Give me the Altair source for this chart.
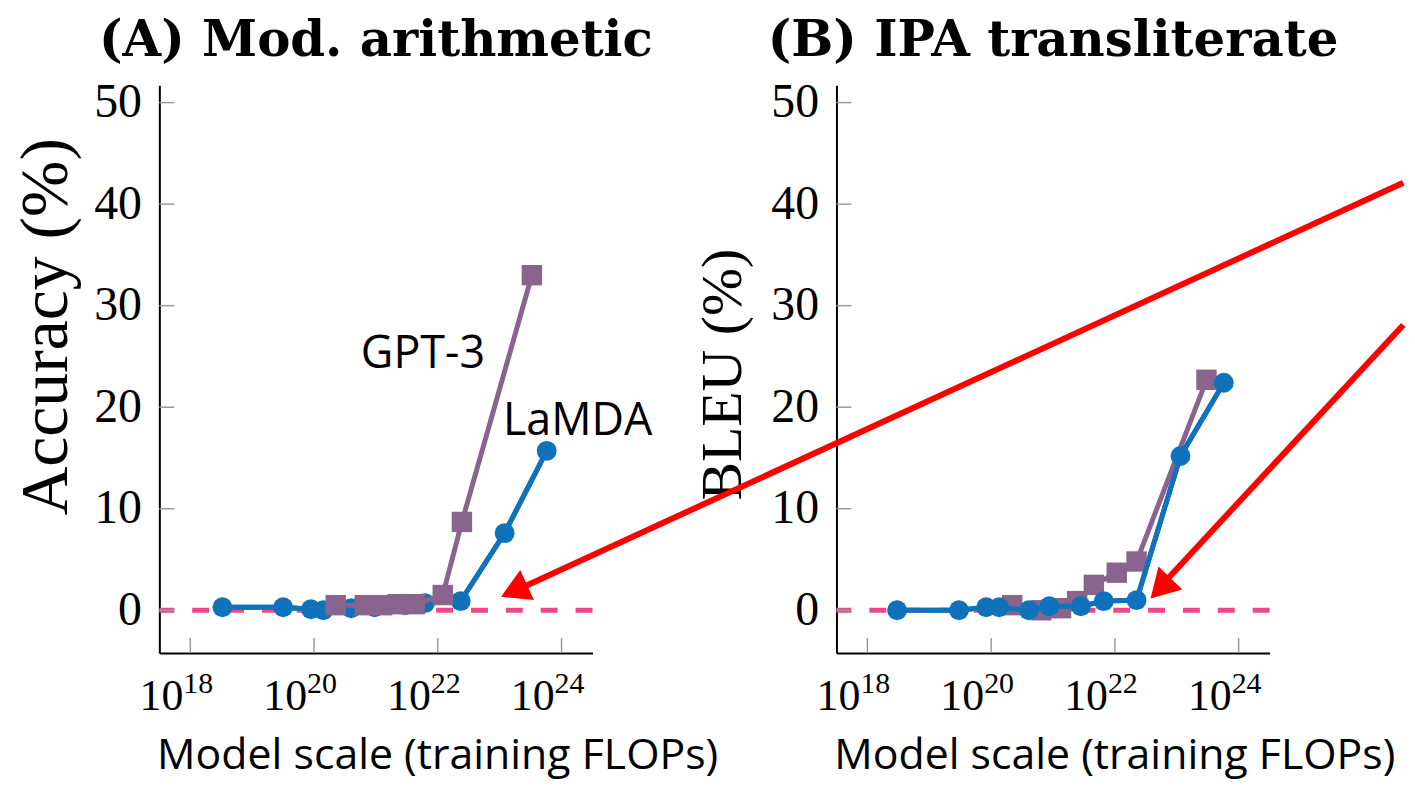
import altair as alt
import pandas as pd

# ---------------- data (x = log10 of training FLOPs) ----------------
A_LAMDA_X = [18.52, 19.50, 19.95, 20.15, 20.60, 20.98, 21.47, 21.79, 22.37, 23.08, 23.76]
A_LAMDA_Y = [0.3, 0.3, 0.1, 0.0, 0.2, 0.3, 0.5, 0.7, 0.9, 7.6, 15.7]
A_GPT3_X = [20.35, 20.82, 21.10, 21.35, 21.63, 22.08, 22.39, 23.52]
A_GPT3_Y = [0.5, 0.5, 0.5, 0.6, 0.6, 1.5, 8.7, 33.0]

B_LAMDA_X = [18.48, 19.48, 19.92, 20.13, 20.61, 20.94, 21.45, 21.82, 22.35, 23.06, 23.76]
B_LAMDA_Y = [0.0, 0.0, 0.3, 0.3, 0.0, 0.4, 0.4, 0.9, 1.0, 15.2, 22.4]
B_GPT3_X = [20.34, 20.81, 21.13, 21.39, 21.66, 22.03, 22.35, 23.48]
B_GPT3_Y = [0.5, 0.0, 0.2, 0.9, 2.5, 3.7, 4.8, 22.7]

X_TICK_EXP = [18, 20, 22, 24]
Y_TICKS = [0, 10, 20, 30, 40, 50]

# annotation texts in panel A (x = log10 FLOPs, y = value)
A_TEXT_X = [21.76, 24.26]
A_TEXT_Y = [25.2, 18.6]
A_TEXT = ["GPT-3", "LaMDA"]

# red arrows, drawn from panel B's coordinate frame
ARROW_X = [26.66, 26.66]
ARROW_Y = [42.1, 28.1]
ARROW_X2 = [12.30, 22.70]
ARROW_Y2 = [1.9, 2.1]
HEAD_X = [12.36, 22.79]
HEAD_Y = [2.1, 2.5]
HEAD_ANGLE = [245.5, 223.9]

BLUE = "#0F72BA"
PURPLE = "#88648F"
PINK = "#F0478A"
RED = "#FF0000"
W, H = 435, 570
XDOM = [17.5, 24.5]
YDOM = [-4.2, 51.7]
SERIF = "Liberation Serif"
SANS = "Open Sans"


def panel(title, ytitle, ytitle_size, ytitle_y, lx, ly, gx, gy, lamda_on_top, texts=None, arrows=None):
    xs = alt.Scale(domain=XDOM, nice=False, zero=False)
    ys = alt.Scale(domain=YDOM, nice=False, zero=False)
    x_axis = alt.Axis(title="Model scale (training FLOPs)", labels=False, ticks=False, grid=False,
                      domainColor="black", domainWidth=2,
                      titleFont=SANS, titleFontSize=43, titleFontWeight="normal", titleColor="black",
                      titleX=279, titleY=116, titleAlign="center", titleBaseline="alphabetic")
    y_axis = alt.Axis(title=ytitle, values=Y_TICKS, ticks=False, grid=False,
                      domainColor="black", domainWidth=2,
                      labelFont=SERIF, labelFontSize=48, labelPadding=18, labelColor="black",
                      titleFont=SERIF, titleFontSize=ytitle_size, titleFontWeight="normal",
                      titleColor="black",
                      titleX=-113, titleY=ytitle_y, titleAngle=-90, titleAlign="center",
                      titleBaseline="middle")

    lam = pd.DataFrame({"x": lx, "y": ly})
    gpt = pd.DataFrame({"x": gx, "y": gy})
    xt = pd.DataFrame({"e": X_TICK_EXP, "base": ["10"] * len(X_TICK_EXP),
                       "sup": [str(v) for v in X_TICK_EXP]})
    yt = pd.DataFrame({"v": Y_TICKS})

    X = lambda f="x": alt.X(f + ":Q", scale=xs)
    Y = lambda f="y": alt.Y(f + ":Q", scale=ys)

    axes_layer = alt.Chart(lam).mark_line(color=BLUE, strokeWidth=5).encode(
        x=alt.X("x:Q", scale=xs, axis=x_axis),
        y=alt.Y("y:Q", scale=ys, axis=y_axis),
    )
    zero_line = alt.Chart(yt).mark_rule(color=PINK, strokeWidth=5, strokeDash=[17, 18]).encode(
        y=Y("v")
    ).transform_filter("datum.v == 0")

    xticks = alt.Chart(xt).mark_rule(color="#999999", strokeWidth=1.5).encode(
        x=X("e"), y=alt.value(H), y2=alt.value(H - 15))
    yticks = alt.Chart(yt).mark_rule(color="#999999", strokeWidth=1.5).encode(
        y=Y("v"), x=alt.value(0), x2=alt.value(15))

    xlab = alt.Chart(xt).mark_text(font=SERIF, fontSize=44, align="right", baseline="alphabetic",
                                   dx=-7, color="black").encode(
        x=X("e"), y=alt.value(H + 57), text="base:N")
    xsup = alt.Chart(xt).mark_text(font=SERIF, fontSize=30, align="left", baseline="alphabetic",
                                   dx=-7, color="black").encode(
        x=X("e"), y=alt.value(H + 40), text="sup:N")

    lam_line = alt.Chart(lam).mark_line(color=BLUE, strokeWidth=5).encode(x=X(), y=Y())
    lam_pts = alt.Chart(lam).mark_point(shape="circle", filled=True, size=400, color=BLUE,
                                        opacity=1).encode(x=X(), y=Y())
    gpt_line = alt.Chart(gpt).mark_line(color=PURPLE, strokeWidth=5).encode(x=X(), y=Y())
    gpt_pts = alt.Chart(gpt).mark_point(shape="square", filled=True, size=420, color=PURPLE,
                                        opacity=1).encode(x=X(), y=Y())

    layers = [axes_layer, zero_line, xticks, yticks, xlab, xsup]
    if lamda_on_top:
        layers += [gpt_line, gpt_pts, lam_line, lam_pts]
    else:
        layers += [lam_line, lam_pts, gpt_line, gpt_pts]

    if texts is not None:
        tdf = pd.DataFrame({"x": texts[0], "y": texts[1], "t": texts[2]})
        layers.append(alt.Chart(tdf).mark_text(font=SANS, fontSize=45, color="black").encode(
            x=X(), y=Y(), text="t:N"))
    if arrows is not None:
        adf = pd.DataFrame({"x": ARROW_X, "y": ARROW_Y, "x2": ARROW_X2, "y2": ARROW_Y2})
        hdf = pd.DataFrame({"x": HEAD_X, "y": HEAD_Y, "a": HEAD_ANGLE})
        layers.append(alt.Chart(adf).mark_rule(color=RED, strokeWidth=6).encode(
            x=X(), y=Y(), x2="x2:Q", y2="y2:Q"))
        layers.append(alt.Chart(hdf).mark_point(shape="triangle", filled=True, size=1100,
                                                color=RED, opacity=1).encode(
            x=X(), y=Y(), angle=alt.Angle("a:Q", scale=None)))

    return alt.layer(*layers).properties(
        width=W, height=H,
        title=alt.Title(title, font="DejaVu Serif", fontSize=50, fontWeight="bold",
                        color="black", anchor="middle", frame="group", offset=13),
    )


pa = panel("(A) Mod. arithmetic", "Accuracy (%)", 68, 242, A_LAMDA_X, A_LAMDA_Y, A_GPT3_X, A_GPT3_Y,
           lamda_on_top=False, texts=(A_TEXT_X, A_TEXT_Y, A_TEXT))
pb = panel("(B) IPA transliterate", "BLEU (%)", 58, 290, B_LAMDA_X, B_LAMDA_Y, B_GPT3_X, B_GPT3_Y,
           lamda_on_top=True, arrows=True)

chart = alt.hconcat(pa, pb, spacing=245).properties(
    bounds="flush", padding={"left": 4, "top": 5, "right": 0, "bottom": 4}
).configure_view(stroke="transparent")

chart.save("out.html", embed_options={"renderer": "svg", "actions": False})
